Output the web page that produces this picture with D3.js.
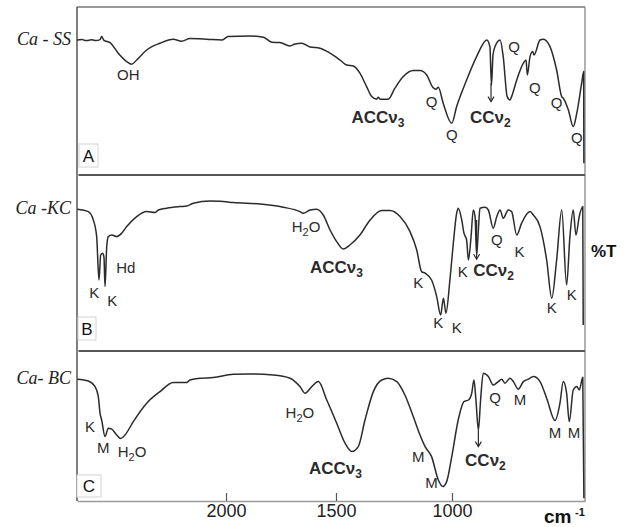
<!DOCTYPE html>
<html>
<head>
<meta charset="utf-8">
<script src="https://cdn.jsdelivr.net/npm/d3@7"></script>
<style>
  body { margin: 0; background: #fff; }
  svg { display: block; }
</style>
</head>
<body>
<svg id="chart" width="628" height="527"></svg>
<script>
// Wavenumber ticks (cm-1) and panel identity
const wavenumberTicks = [2000, 1500, 1000];
const seriesNames = ["Ca - SS", "Ca -KC", "Ca- BC"];
const panelLetters = ["A", "B", "C"];

// FTIR spectra: [wavenumber cm-1, transmittance %T]
const ssSpectrum = [
  [4000,95],[3933,95.3],[3893,94.8],[3852,94.8],[3799,95.1],[3745,94.7],[3691,95.2],[3669,96.7],[3638,94.8],
  [3557,93.7],[3446,88.4],[3333,84.2],[3266,82.9],[3199,85],[3065,90],[2886,93.4],[2708,95.4],[2595,94.4],
  [2484,95.7],[2259,95.4],[2058,95],[1990,96.7],[1891,97],[1830,96.4],[1792,93.9],[1755,93.7],[1709,92],
  [1686,93],[1656,93.4],[1618,91.5],[1573,90.9],[1527,88.4],[1483,85],[1454,82.5],[1425,82],[1397,78.4],
  [1368,71.7],[1346,66.7],[1325,65.4],[1318,66.4],[1310,65.4],[1275,65.4],[1246,70.9],[1210,76.7],[1167,79.7],
  [1138,79.7],[1109,77.5],[1083,71.4],[1069,70.4],[1059,71.4],[1038,63.4],[1001,53.4],[979,61.7],[934,75],
  [889,86.7],[843,95],[829,91.7],[822,72.5],[815,87.5],[806,91.7],[783,95],[769,86.7],[751,66.7],[738,65],
  [731,66.7],[708,75],[678,83.4],[666,85],[660,77.5],[648,86.7],[636,89.2],[630,87.5],[603,95],[588,95.4],
  [558,91.7],[528,80],[505,66.7],[498,65.9],[475,60],[453,51.7],[437,58.4],[415,73.4],[406,79.2],[405,33.4]
];
const kcSpectrum = [
  [3996,92.9],[3848,91.7],[3781,87.5],[3736,79.2],[3705,57.5],[3682,70],[3655,70.9],[3638,68.9],[3624,54.2],
  [3601,74.2],[3580,79.2],[3534,80],[3467,79.2],[3400,80.9],[3333,84.2],[3199,89.2],[3065,91.7],[2953,91.2],
  [2909,92.5],[2796,93.4],[2618,94.2],[2528,94.5],[2439,95.9],[2215,97],[2081,96.9],[1967,96.2],[1845,95.5],
  [1740,93.9],[1664,91.7],[1649,90.9],[1618,92.5],[1588,92.9],[1558,90],[1527,82.5],[1497,76.7],[1469,73],
  [1440,75],[1397,80],[1353,87.5],[1303,92.2],[1267,92.2],[1224,89.2],[1181,81.7],[1152,72.5],[1131,61.7],
  [1116,60.9],[1088,57.5],[1066,49.2],[1049,40],[1037,48.4],[1026,40.9],[1009,57.5],[994,75.9],[979,90.9],
  [972,93.4],[956,87.5],[946,80.9],[934,77.5],[926,67.5],[914,79.2],[904,92.5],[896,89.2],[889,70],[881,82.5],
  [874,93.4],[851,93.9],[836,92.5],[814,83.4],[798,89.2],[783,92.5],[769,88.4],[746,92.5],[731,91.7],[708,80],
  [686,85.9],[648,91.7],[633,90],[603,84.2],[573,67.5],[550,48.4],[528,67.5],[505,92.5],[483,55],[468,79.2],
  [453,92.5],[441,80],[426,89.2],[410,94.2],[408,35]
];
const bcSpectrum = [
  [3996,95.4],[3848,94.5],[3758,91.7],[3714,86.7],[3691,78.4],[3669,75],[3624,66.7],[3580,70.9],[3534,70.4],
  [3467,67.5],[3414,65.7],[3356,67.5],[3244,74.2],[3065,83.4],[2886,89.2],[2708,93.7],[2528,93.7],[2484,95],
  [2349,95.9],[2171,96.2],[1967,97.9],[1891,98],[1785,97.5],[1709,95.9],[1664,91.7],[1641,88.4],[1610,91.7],
  [1580,94.2],[1542,85],[1497,73.4],[1461,63.4],[1432,59.2],[1404,61.7],[1375,75],[1339,89.2],[1303,95],
  [1275,95.9],[1238,94.2],[1203,87.5],[1167,76.7],[1138,67.5],[1116,61.7],[1088,56.7],[1059,45],[1040,41.7],
  [1023,44.2],[1001,56.7],[972,75],[946,84.2],[926,85],[911,88.4],[901,95],[892,85],[881,70],[871,85],
  [859,98.4],[836,96.7],[814,92.5],[791,94.2],[776,95.4],[761,93.4],[738,95.9],[723,94.2],[701,90.4],
  [678,94.2],[656,95.4],[633,96.7],[603,94.2],[573,85.9],[535,74.7],[513,83.4],[498,94.2],[483,88.4],
  [471,74.2],[453,90],[437,91.7],[426,90],[410,96.4],[405,35.9]
];

// Band assignments: [label, wavenumber, %T, bold]
const ssBands = [
  ["OH",3312,77.5],["ACCν3",1433,56.7,true],["Q",1088,64.2],["Q",1001,47.5],["CCν2",919,56.7,true],
  ["Q",720,91.7],["Q",626,70.9],["Q",528,63.4],["Q",437,45.9]
];
const kcBands = [
  ["K",3768,50.9],["K",3526,47.2],["Hd",3346,63.4],["H2O",1636,84.2],["ACCν3",1618,64.2,true],
  ["K",1145,55.9],["K",1059,35.9],["K",979,33.4],["K",952,61.7],["CCν2",904,62.5,true],
  ["Q",798,77.5],["K",696,71.7],["K",550,43.4],["K",460,50]
];
const bcBands = [
  ["K",3826,71.7],["M",3647,60.9],["H2O",3262,59.2],["H2O",1664,78.4],["ACCν3",1623,50.9,true],
  ["M",1145,56.7],["M",1088,43.4],["CCν2",941,55,true],["Q",806,85.9],["M",693,85],
  ["M",535,68.4],["M",450,68.4]
];
// Carbonate v2 pointer: [wavenumber, %T start, %T end]
const ssArrow = [824, 73.5, 64.2];
const kcArrow = [889, 87.5, 67.9];
const bcArrow = [881, 70, 61.7];

const svg = d3.select("#chart");
const sans = "'Liberation Sans', Arial, sans-serif";
const ink = "#2b2b2b";

const x = d3.scaleLinear()
  .domain([4000, 2000, 1500, 1000, 400])
  .range([77, 226, 336, 452, 585]);

const panels = [
  { data: ssSpectrum, bands: ssBands, arrow: ssArrow, top: 7,   bottom: 175, yTop: 30,  box: [79, 144, 19, 23] },
  { data: kcSpectrum, bands: kcBands, arrow: kcArrow, top: 175, bottom: 351, yTop: 195, box: [78, 317, 18, 23] },
  { data: bcSpectrum, bands: bcBands, arrow: bcArrow, top: 351, bottom: 501, yTop: 370, box: [77, 475, 24, 22] }
];

const x0 = x(4000), x1 = x(400);

// Outer frame
svg.append("line").attr("x1", x0).attr("x2", x1).attr("y1", 7).attr("y2", 7)
  .attr("stroke", "#777").attr("stroke-width", 1.3);
svg.append("line").attr("x1", x1).attr("x2", x1).attr("y1", 7).attr("y2", 501)
  .attr("stroke", "#888").attr("stroke-width", 1.3);
svg.append("line").attr("x1", x0).attr("x2", x0).attr("y1", 7).attr("y2", 501)
  .attr("stroke", "#555").attr("stroke-width", 1.5);

// Panel separators
[175, 351].forEach(yy => {
  svg.append("line").attr("x1", x0 + 1.5).attr("x2", x1).attr("y1", yy).attr("y2", yy)
    .attr("stroke", "#555").attr("stroke-width", 2);
});

function addText(g, str, px, py, bold) {
  const t = g.append("text")
    .attr("x", px).attr("y", py).attr("dy", "0.35em")
    .attr("text-anchor", bold ? "start" : "middle")
    .attr("fill", ink)
    .style("font-family", sans)
    .style("font-size", bold ? "17px" : "15px")
    .style("font-weight", bold ? "bold" : "normal");
  str.split(/(\d)/).filter(s => s.length).forEach(part => {
    if (/^\d$/.test(part)) {
      t.append("tspan").attr("dy", 4).style("font-size", bold ? "12px" : "11px").text(part);
    } else {
      const sp = t.append("tspan").text(part);
      if (t.selectAll("tspan").size() > 1) sp.attr("dy", -4);
    }
  });
}

panels.forEach((p, i) => {
  const y = d3.scaleLinear().domain([100, 0]).range([p.yTop, p.yTop + 200]);
  const g = svg.append("g");

  const line = d3.line()
    .x(d => x(d[0]))
    .y(d => y(d[1]))
    .curve(d3.curveMonotoneX);

  g.append("path").datum(p.data)
    .attr("d", line)
    .attr("fill", "none")
    .attr("stroke", ink)
    .attr("stroke-width", 1.5)
    .attr("stroke-linejoin", "round");

  // Sample name
  g.append("text")
    .attr("x", x0 - 6).attr("y", y(p.data[0][1]) + 5)
    .attr("text-anchor", "end")
    .attr("fill", "#222")
    .style("font-family", "'Liberation Serif', 'Times New Roman', serif")
    .style("font-style", "italic")
    .style("font-size", "18px")
    .text(seriesNames[i]);

  // Band labels
  p.bands.forEach(b => addText(g, b[0], x(b[1]), y(b[2]), !!b[3]));

  // CC v2 pointer arrow
  const ax = x(p.arrow[0]), ay0 = y(p.arrow[1]), ay1 = y(p.arrow[2]);
  g.append("line").attr("x1", ax).attr("x2", ax).attr("y1", ay0).attr("y2", ay1)
    .attr("stroke", ink).attr("stroke-width", 1.2);
  g.append("path")
    .attr("d", `M${ax - 3},${ay1 - 5}L${ax},${ay1}L${ax + 3},${ay1 - 5}`)
    .attr("fill", "none").attr("stroke", ink).attr("stroke-width", 1.2);

  // Panel letter box
  const [bx, by, bw, bh] = p.box;
  g.append("rect").attr("x", bx).attr("y", by).attr("width", bw).attr("height", bh)
    .attr("fill", "#fff").attr("stroke", "#d4d4d4").attr("stroke-width", 1);
  g.append("text")
    .attr("x", bx + bw / 2).attr("y", by + bh / 2).attr("dy", "0.36em")
    .attr("text-anchor", "middle").attr("fill", "#111")
    .style("font-family", sans).style("font-size", "17px")
    .text(panelLetters[i]);
});

// Wavenumber axis
const axis = d3.axisBottom(x)
  .tickValues(wavenumberTicks)
  .tickFormat(d3.format("d"))
  .tickSizeInner(-8)
  .tickSizeOuter(0)
  .tickPadding(3);
const axG = svg.append("g").attr("transform", "translate(0,501)").call(axis);
axG.select(".domain").attr("stroke", "#9a9a9a").attr("stroke-width", 1.5);
axG.selectAll(".tick line").attr("stroke", "#555").attr("stroke-width", 1.2);
axG.selectAll(".tick text")
  .attr("fill", "#222")
  .style("font-family", sans)
  .style("font-size", "18px");

// Axis titles
svg.append("text").attr("x", 544).attr("y", 523)
  .attr("fill", "#111").style("font-family", sans).style("font-size", "19px").style("font-weight", "bold")
  .text("cm");
svg.append("text").attr("x", 575).attr("y", 516)
  .attr("fill", "#111").style("font-family", sans).style("font-size", "11px").style("font-weight", "bold")
  .text("-1");
svg.append("text").attr("x", 591).attr("y", 257)
  .attr("fill", "#111").style("font-family", sans).style("font-size", "17px").style("font-weight", "bold")
  .text("%T");
</script>
</body>
</html>
